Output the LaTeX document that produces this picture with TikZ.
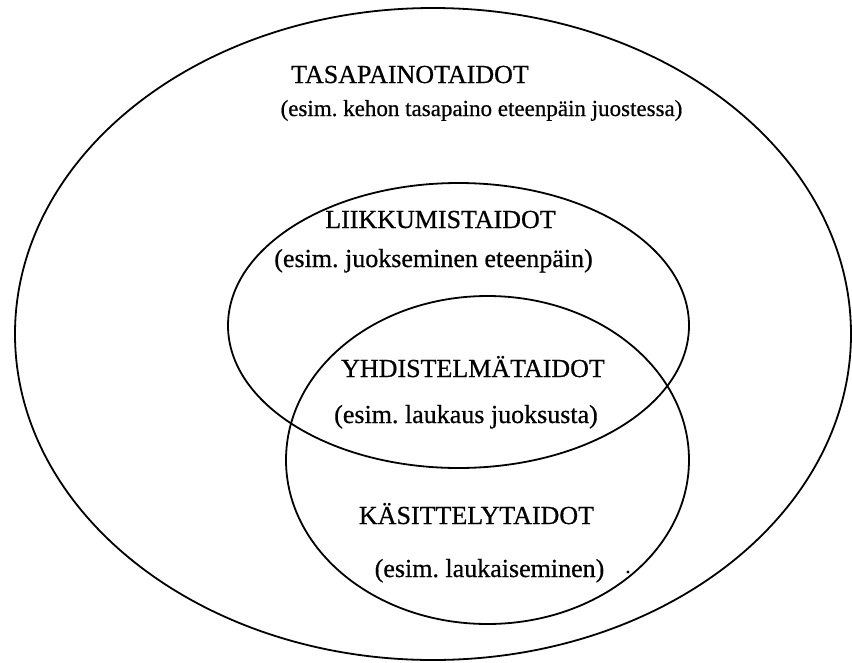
\documentclass[tikz,border=0pt]{standalone}
\usepackage{fontspec}
\setmainfont{Liberation Serif}
\newfontfamily\labelfont[FakeBold=0.6]{Liberation Serif}
\begin{document}
\frenchspacing
\begin{tikzpicture}[x=1pt,y=-1pt,
  ring/.style={line width=1.8pt, draw=black},
  lbl/.style={anchor=base, inner sep=0pt, font=\labelfont\fontsize{26}{30}\selectfont},
  small lbl/.style={lbl, font=\labelfont\fontsize{23}{28}\selectfont}]
\useasboundingbox (0,0) rectangle (852,662);
% skill areas
\draw[ring] (433,334) ellipse [x radius=418, y radius=326];
\draw[ring] (458.5,325.5) ellipse [x radius=230.5, y radius=142.5];
\draw[ring] (487.5,460) ellipse [x radius=201.5, y radius=164];
% labels
\node[lbl] (tasa) at (410,83) {TASAPAINOTAIDOT};
\node[small lbl] (tasaex) at (481.5,116) {(esim. kehon tasapaino eteenpäin juostessa)};
\node[lbl] (liik) at (440.5,228) {LIIKKUMISTAIDOT};
\node[lbl] (liikex) at (433.5,267) {(esim. juokseminen eteenpäin)};
\node[lbl] (yhd) at (473,377) {YHDISTELMÄTAIDOT};
\node[lbl] (yhdex) at (466,423) {(esim. laukaus juoksusta)};
\node[lbl] (kas) at (476.5,524) {KÄSITTELYTAIDOT};
\node[lbl] (kasex) at (489.5,577) {(esim. laukaiseminen)};
\fill (628,572) circle [radius=1.7];
\end{tikzpicture}
\end{document}
